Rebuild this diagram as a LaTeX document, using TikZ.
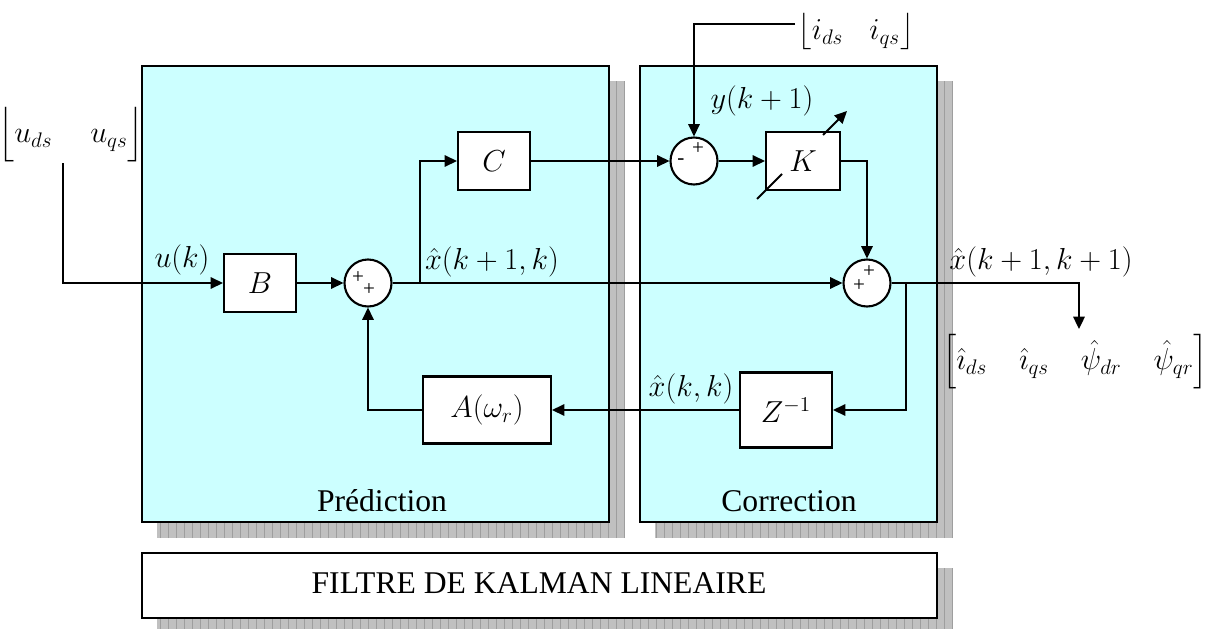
\documentclass[tikz,border=0pt]{standalone}
\usepackage{amsmath}
\usepackage{fontspec}
\setmainfont{Liberation Serif}
\usetikzlibrary{calc,arrows.meta}
\definecolor{kcyan}{RGB}{204,255,255}
\definecolor{kshade}{RGB}{192,192,192}

\begin{document}
\begin{tikzpicture}[x=0.02cm, y=-0.02cm, >={Triangle[length=7pt,width=6.5pt]}, line width=1.1pt,
    font=\fontsize{16.5}{19}\selectfont,
    block/.style={draw, fill=white, line width=1.2pt, inner sep=0pt},
    sum/.style={draw, circle, fill=white, line width=1.2pt, minimum size=0.94cm, inner sep=0pt},
    sgn/.style={font=\fontsize{12}{12}\selectfont, inner sep=0pt},
    panel/.style={draw, line width=1.3pt, fill=kcyan},
    title/.style={font=\fontsize{18}{20}\selectfont, anchor=base}]
  \useasboundingbox (0,0) rectangle (1215,629);
  % ------------------------------------------------------------------ shadows and panels
  \foreach \xa/\ya/\xb/\yb in {157/81/624/538, 655/81/952/538, 157/568/952/629} {
    \fill[kshade] (\xa,\ya) rectangle (\xb,\yb);
    \draw[black!38, line width=0.3pt, step=8] (\xa,\ya) grid (\xb,\yb);
  }
  \draw[panel] (142,66) rectangle (609,522);
  \draw[panel] (640,66) rectangle (937,522);
  \draw[line width=1.3pt, fill=white] (142,553) rectangle (937,618);
  \node[title] (pred) at (382,511) {Prédiction};
  \node[title] (corr) at (789,511) {Correction};
  \node[title] (kf) at (539,593) {FILTRE DE KALMAN LINEAIRE};
  % ------------------------------------------------------------------ blocks and sums
  \node[block, minimum width=1.44cm, minimum height=1.16cm] (B) at (260,283) {$B$};
  \node[sum] (S1) at (368,283) {};
  \node[block, minimum width=1.44cm, minimum height=1.16cm] (C) at (494,161) {$C$};
  \node[sum] (S2) at (694,161) {};
  \node[block, minimum width=1.48cm, minimum height=1.16cm] (K) at (803,161) {};
  \node[sum] (S3) at (867,283) {};
  \node[block, minimum width=1.84cm, minimum height=1.5cm] (Z) at (786,410) {$Z^{-1}$};
  \node[block, minimum width=2.56cm, minimum height=1.34cm] (A) at (487,410) {$A(\omega_r)$};
  % variable gain
  \draw ($(K)+(-46,38)$) -- ($(K)+(-21,13)$);
  \draw[->] ($(K)+(20,-26)$) -- ($(K)+(44,-50)$);
  \node[inner sep=1pt] (Klab) at (K) {$K$};
  % signs
  \node[sgn] (s1a) at ($(S1)+(-10,-5)$) {+};
  \node[sgn] (s1b) at ($(S1)+(1,7)$) {+};
  \node[sgn] (s2a) at ($(S2)+(4,-12)$) {+};
  \node[sgn] (s2b) at ($(S2)+(-13,1)$) {-};
  \node[sgn] (s3a) at ($(S3)+(2,-11)$) {+};
  \node[sgn] (s3b) at ($(S3)+(-8,3)$) {+};
  % ------------------------------------------------------------------ signals
  \node[inner sep=0pt] (ubr) at (71,135) {$\Bigl\lfloor u_{ds}\hspace{1.3em}u_{qs}\Bigr\rfloor$};
  \node[inner sep=0pt] (ibr) at (856,32) {$\bigl\lfloor i_{ds}\hspace{0.9em}i_{qs}\bigr\rfloor$};
  \node[inner sep=0pt] (xbr) at (1075,362)
    {$\Bigl[\hat{\imath}_{ds}\hspace{1.1em}\hat{\imath}_{qs}\hspace{1.1em}\hat{\psi}_{dr}\hspace{1.1em}\hat{\psi}_{qr}\Bigr]$};
  \node[inner sep=1pt] (uk) at (182,260) {$u(k)$};
  \node[inner sep=1pt] (xp) at (492,262) {$\hat{x}(k+1,k)$};
  \node[inner sep=1pt] (yk) at (762,101) {$y(k+1)$};
  \node[inner sep=1pt] (xc) at (1041,262) {$\hat{x}(k+1,k+1)$};
  \node[inner sep=1pt] (xk) at (691,389) {$\hat{x}(k,k)$};
  % ------------------------------------------------------------------ connectors
  \coordinate (uin) at (63,163);
  \coordinate (iin) at (795,24);
  \coordinate (br1) at (420,283);
  \coordinate (br2) at (906,283);
  \coordinate (xo) at (1079,329);
  \draw[->] (uin) |- (B);
  \draw[->] (B) -- (S1);
  \draw[->] (S1) -- (S3);
  \draw[->] (br1) |- (C);
  \draw[->] (C) -- (S2);
  \draw[->] (iin) -| (S2);
  \draw[->] (S2) -- (K);
  \draw[->] (K) -| (S3);
  \draw[->] (S3) -| (xo);
  \draw[->] (br2) |- (Z);
  \draw[->] (Z) -- (A);
  \draw[->] (A) -| (S1);
\end{tikzpicture}
\end{document}
